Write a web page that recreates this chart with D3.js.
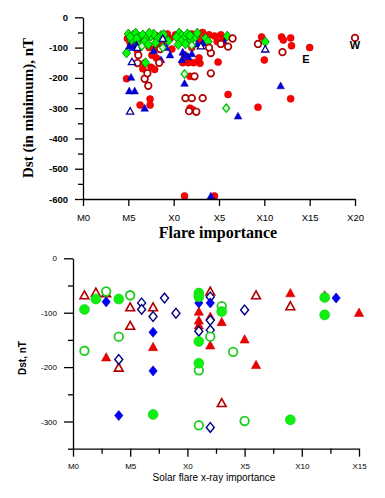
<!DOCTYPE html>
<html>
<head>
<meta charset="utf-8">
<script src="https://cdn.jsdelivr.net/npm/d3@7"></script>
<style>
  body { margin: 0; background: #fff; }
  .tick text { font-family: "Liberation Sans", Arial, sans-serif; }
</style>
</head>
<body>
<script>
//Top chart data: [flare class position, Dst]  (M0 = 0, M5 = 5, X0 = 10, X5 = 15 ...)
var topXLabels = ["M0", "M5", "X0", "X5", "X10", "X15", "X20"];
var topYTicks = [0, -100, -200, -300, -400, -500, -600];

var topRedFilled = [[4.9,-70],[5.6,-95],[6.4,-75],[7.3,-100],[7.9,-105],[8.4,-90],[8.8,-80],[6.0,-110],
  [7.6,-125],[8.1,-134],[6.8,-151],[7.5,-165],[7.9,-172],[6.6,-170],[4.8,-203],[7.4,-270],[6.3,-290],
  [7.4,-290],[9.8,-105],[9.3,-55],[12.0,-55],[12.6,-62],[13.2,-50],[12.9,-75],[13.5,-68],[14.5,-62],
  [15.2,-58],[15.5,-70],[14.8,-80],[12.0,-100],[11.2,-125],[11.0,-150],[11.6,-150],[12.2,-150],[12.9,-152],
  [12.8,-134],[14.9,-148],[11.8,-195],[11.8,-300],[12.1,-305],[16.0,-255],[19.3,-297],[20.0,-141],
  [19.7,-65],[21.9,-65],[22.1,-75],[22.9,-68],[23.0,-94],[25.0,-100],[22.9,-269],[11.2,-590],[14.5,-590],
  [10.2,-58],[6.9,-62],[8.0,-60],[9.6,-70],[5.2,-85],[13.9,-58]];
var topGreenFilled = [[5.0,-55],[5.5,-60],[5.8,-52],[6.2,-65],[6.6,-58],[7.0,-70],[6.8,-80],[7.5,-62],
  [7.8,-55],[8.2,-72],[8.6,-60],[9.0,-68],[9.4,-78],[5.3,-75],[6.0,-88],[7.2,-90],[8.0,-85],[4.8,-118],
  [6.9,-150],[10.6,-52],[10.9,-60],[11.2,-68],[11.5,-55],[10.8,-78],[11.3,-88],[11.9,-75],[12.4,-65],
  [13.5,-70],[13.8,-80],[15.9,-62],[20.1,-81],[10.3,-65],[5.9,-70],[10.5,-90],[5.2,-65],[7.3,-52],
  [8.9,-57],[11.8,-60],[12.6,-52]];
var topBlueFilled = [[5.1,-95],[5.5,-100],[5.9,-90],[5.3,-198],[5.1,-243],[5.7,-243],[6.8,-300],[9.6,-124],
  [11.2,-218],[11.3,-125],[11.0,-115],[10.9,-140],[11.6,-130],[12.0,-120],[12.6,-88],[15.6,-82],
  [17.1,-326],[21.8,-226],[14.1,-590],[7.8,-110],[8.9,-95],[8.6,-140],[9.2,-100],[13.2,-85]];
var topRedOpen = [[6.0,-151],[6.8,-203],[7.1,-185],[7.2,-226],[8.4,-150],[8.5,-105],[6.1,-125],[12.3,-195],
  [14.1,-118],[14.1,-185],[11.3,-267],[12.0,-267],[13.2,-267],[11.7,-310],[12.5,-312],[16.5,-70],
  [16.0,-97],[19.3,-88],[22.0,-115],[30.0,-68],[13.9,-100],[15.2,-88]];
var topBlueOpen = [[5.4,-147],[5.2,-310],[20.1,-105],[8.8,-70],[13.0,-95],[6.0,-100]];
var topGreenOpen = [[11.2,-187],[15.8,-300],[6.5,-95],[8.8,-100],[12.0,-92]];
var topNotes = [["E", 24.6, -151], ["W", 30.0, -105]];

//Bottom chart data
var botXLabels = ["M0", "M5", "X0", "X5", "X10", "X15"];
var botYTicks = [0, -100, -200, -300];

var botGreenFilled = [[1.0,-94],[2.0,-75],[4.0,-75],[7.0,-287],[11,-64],[11,-71],[13,-98],[11,-153],
  [11,-193],[19,-297],[22,-104]];
var botGreenOpen = [[2.9,-61],[5.0,-68],[4.0,-144],[1.0,-170],[11,-307],[13,-88],[12,-144],[14,-172],
  [11,-206],[15,-299]];
var botRedFilled = [[7.0,-163],[2.9,-182],[11,-98],[11,-114],[11,-123],[12,-107],[13,-117],[12,-160],
  [15,-149],[16,-196],[19,-64],[22,-68],[25,-100]];
var botRedOpen = [[1.0,-68],[2.0,-63],[2.9,-64],[5.0,-90],[7.0,-90],[5.0,-124],[4.0,-201],[13,-266],
  [12,-61],[16,-68],[19,-88]];
var botBlueFilled = [[2.9,-80],[5.0,-68],[7.0,-136],[7.0,-207],[4.0,-289],[12,-82],[11,-82],[23,-73]];
var botBlueOpen = [[6.0,-82],[6.0,-94],[7.0,-107],[8.0,-73],[9.0,-101],[4.0,-186],[12,-311],[12,-71],
  [12,-114],[11,-134],[12,-132],[15,-95]];
var botGreenOnTop = [[22,-72]];

var svg = d3.select("body")
            .append("svg")
            .attr("width", 385)
            .attr("height", 498);

//marker shapes
function shape(type, x, y, s) {
  if (type == "circle") {
    return "M" + (x - s) + "," + y + "a" + s + "," + s + " 0 1,0 " + (2 * s) + ",0a" + s + "," + s + " 0 1,0 " + (-2 * s) + ",0Z";
  } else if (type == "triangle") {
    return "M" + x + "," + (y - s) + "L" + (x + s) + "," + (y + s * 0.8) + "L" + (x - s) + "," + (y + s * 0.8) + "Z";
  } else {
    return "M" + x + "," + (y - s * 1.15) + "L" + (x + s * 0.95) + "," + y + "L" + x + "," + (y + s * 1.15) + "L" + (x - s * 0.95) + "," + y + "Z";
  }
}

function plot(g, data, xs, ys, type, s, fill, stroke, sw) {
  g.append("g")
   .selectAll("path")
   .data(data)
   .enter()
   .append("path")
   .attr("d", function(d) { return shape(type, xs(d[0]), ys(d[1]), s); })
   .attr("fill", fill)
   .attr("stroke", stroke)
   .attr("stroke-width", sw);
}

// ---------- TOP CHART ----------
var tx = d3.scaleLinear().domain([0, 30]).range([83, 355]);
var ty = d3.scaleLinear().domain([-600, 0]).range([199, 17.3]);
var topG = svg.append("g");

plot(topG, topRedFilled, tx, ty, "circle", 3.5, "#ff0000", "#d00000", 0.6);
plot(topG, topGreenFilled, tx, ty, "diamond", 4.3, "#00ff00", "#007700", 0.8);
plot(topG, topBlueFilled, tx, ty, "triangle", 3.8, "#0000dd", "#0000aa", 0.5);
plot(topG, topRedOpen, tx, ty, "circle", 3.3, "#fff", "#b00000", 1.7);
plot(topG, topBlueOpen, tx, ty, "triangle", 3.6, "#fff", "#000090", 1.3);
plot(topG, topGreenOpen, tx, ty, "diamond", 3.6, "#ccffcc", "#00bb00", 1.3);

topG.selectAll("text.note")
   .data(topNotes)
   .enter()
   .append("text")
   .attr("class", "note")
   .attr("x", function(d) { return tx(d[1]); })
   .attr("y", function(d) { return ty(d[2]); })
   .attr("text-anchor", "middle")
   .style("font", "bold 11px 'Liberation Sans', Arial, sans-serif")
   .text(function(d) { return d[0]; });

var tyAxis = d3.axisLeft(ty).tickValues(topYTicks).tickSize(8).tickSizeOuter(0).tickPadding(7)
               .tickFormat(function(d) { return String(d); });
topG.append("g")
   .attr("transform", "translate(83,0)")
   .call(tyAxis)
   .call(function(g) {
     g.selectAll("text").style("font-size", "9.5px").style("font-weight", "bold");
     g.selectAll("line, path").attr("stroke", "#000").attr("stroke-width", 1.3);
   });
topG.append("g")
   .attr("transform", "translate(83,0)")
   .call(d3.axisLeft(ty).tickValues([-50, -150, -250, -350, -450, -550]).tickSize(5).tickFormat(""))
   .call(function(g) {
     g.select(".domain").remove();
     g.selectAll("line").attr("stroke", "#000").attr("stroke-width", 1.3);
   });

var txAxis = d3.axisBottom(tx).tickValues([0, 5, 10, 15, 20, 25, 30]).tickSize(7).tickSizeOuter(0).tickPadding(8)
               .tickFormat(function(d, i) { return topXLabels[i]; });
topG.append("g")
   .attr("transform", "translate(0,199)")
   .call(txAxis)
   .call(function(g) {
     g.selectAll("text").style("font-size", "9.5px");
     g.selectAll("line, path").attr("stroke", "#000").attr("stroke-width", 1.3);
   });

topG.append("text")
   .attr("transform", "translate(33,108) rotate(-90)")
   .attr("text-anchor", "middle")
   .style("font", "bold 15px 'Liberation Serif', 'Times New Roman', serif")
   .text("Dst (in minimum), nT");

topG.append("text")
   .attr("x", 218)
   .attr("y", 238)
   .attr("text-anchor", "middle")
   .style("font", "bold 16px 'Liberation Serif', 'Times New Roman', serif")
   .text("Flare importance");

// ---------- BOTTOM CHART ----------
var bx = d3.scaleLinear().domain([0, 25]).range([73, 359]);
var by = d3.scaleLinear().domain([-350, 0]).range([448.7, 258.3]);
var botG = svg.append("g");

plot(botG, botRedFilled, bx, by, "triangle", 4.6, "#ee0000", "#cc0000", 0.6);
plot(botG, botRedOpen, bx, by, "triangle", 4.4, "#fff4f4", "#b00000", 1.6);
plot(botG, botBlueOpen, bx, by, "diamond", 4.2, "#fff", "#000080", 1.4);
plot(botG, botBlueFilled, bx, by, "diamond", 4.4, "#0000ff", "#0000aa", 0.6);
plot(botG, botGreenOpen, bx, by, "circle", 4.3, "#fff", "#22cc22", 1.8);
plot(botG, botGreenFilled, bx, by, "circle", 5, "#11ee11", "#00cc00", 0.5);
plot(botG, botGreenOnTop, bx, by, "circle", 5, "#11ee11", "#00cc00", 0.5);

var byAxis = d3.axisLeft(by).tickValues(botYTicks).tickSize(9).tickSizeOuter(0).tickPadding(7)
               .tickFormat(function(d) { return String(d); });
botG.append("g")
   .attr("transform", "translate(73,0)")
   .call(byAxis)
   .call(function(g) {
     g.selectAll("text").style("font-size", "8px");
     g.selectAll("line, path").attr("stroke", "#000").attr("stroke-width", 1.3);
   });
botG.append("g")
   .attr("transform", "translate(73,0)")
   .call(d3.axisLeft(by).tickValues([-50, -150, -250, -350]).tickSize(5).tickFormat(""))
   .call(function(g) {
     g.select(".domain").remove();
     g.selectAll("line").attr("stroke", "#000").attr("stroke-width", 1.3);
   });

var bxAxis = d3.axisBottom(bx).tickValues([0, 5, 10, 15, 20, 25]).tickSize(8).tickSizeOuter(0).tickPadding(7)
               .tickFormat(function(d, i) { return botXLabels[i]; });
botG.append("g")
   .attr("transform", "translate(0,448.7)")
   .call(bxAxis)
   .call(function(g) {
     g.selectAll("text").style("font-size", "8px");
     g.selectAll("line, path").attr("stroke", "#000").attr("stroke-width", 1.3);
   });
botG.append("g")
   .attr("transform", "translate(0,448.7)")
   .call(d3.axisBottom(bx).tickValues([2.5, 7.5, 12.5, 17.5, 22.5]).tickSize(5).tickFormat(""))
   .call(function(g) {
     g.select(".domain").remove();
     g.selectAll("line").attr("stroke", "#000").attr("stroke-width", 1.3);
   });

botG.append("text")
   .attr("transform", "translate(26,358) rotate(-90)")
   .attr("text-anchor", "middle")
   .style("font", "bold 10px 'Liberation Sans', Arial, sans-serif")
   .text("Dst, nT");

botG.append("text")
   .attr("x", 214)
   .attr("y", 481)
   .attr("text-anchor", "middle")
   .style("font", "10px 'Liberation Sans', Arial, sans-serif")
   .text("Solar flare x-ray importance");
</script>
</body>
</html>
